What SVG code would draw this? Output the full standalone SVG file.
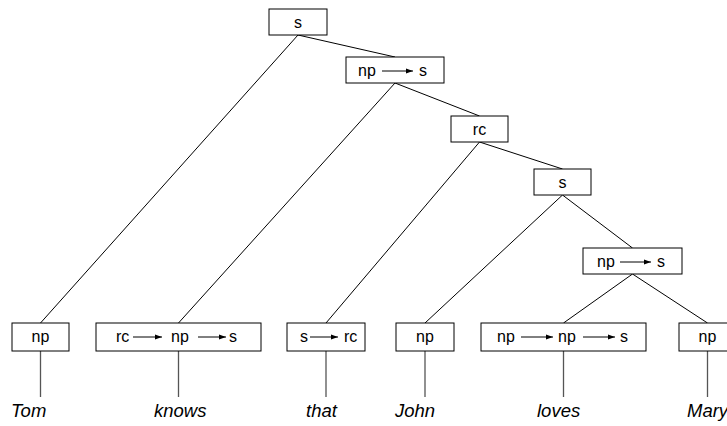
<svg xmlns="http://www.w3.org/2000/svg" width="727" height="426" viewBox="0 0 727 426">
<defs>
<style>
.box{fill:#fff;stroke:#000;stroke-width:1}
.lbl{font-family:"Liberation Sans",Arial,sans-serif;font-size:16px;fill:#000}
.word{font-family:"Liberation Sans",Arial,sans-serif;font-size:18.5px;font-style:italic;fill:#000}
.edge{stroke:#000;stroke-width:1;fill:none}
.leaf{stroke:#555;stroke-width:1.3;fill:none}
.arr{stroke:#000;stroke-width:1;fill:none;marker-end:url(#ah)}
</style>
<marker id="ah" markerWidth="7" markerHeight="6" refX="7" refY="3" orient="auto" markerUnits="userSpaceOnUse">
<path d="M0,0.6 L7,3 L0,5.4 z" fill="#000"/>
</marker>
</defs>
<rect width="727" height="426" fill="#fff"/>
<g id="connectors">
<line class="edge" x1="298" y1="35" x2="40.5" y2="323"/>
<line class="edge" x1="298" y1="35" x2="395" y2="57"/>
<line class="edge" x1="395" y1="83" x2="178.5" y2="323"/>
<line class="edge" x1="395" y1="83" x2="479.5" y2="116"/>
<line class="edge" x1="479.5" y1="142" x2="326" y2="323"/>
<line class="edge" x1="479.5" y1="142" x2="562.5" y2="169"/>
<line class="edge" x1="562.5" y1="195" x2="425" y2="323"/>
<line class="edge" x1="562.5" y1="195" x2="632.5" y2="248"/>
<line class="edge" x1="632.5" y1="274" x2="563.5" y2="323"/>
<line class="edge" x1="632.5" y1="274" x2="707.5" y2="323"/>
<line class="leaf" x1="40.5" y1="351" x2="40.5" y2="397"/>
<line class="leaf" x1="178.5" y1="351" x2="178.5" y2="397"/>
<line class="leaf" x1="326" y1="351" x2="326" y2="397"/>
<line class="leaf" x1="425" y1="351" x2="425" y2="397"/>
<line class="leaf" x1="563.5" y1="351" x2="563.5" y2="397"/>
<line class="leaf" x1="707.5" y1="351" x2="707.5" y2="397"/>
</g>
<g id="n-s1">
<rect class="box" x="269" y="9" width="58" height="26"/>
<text class="lbl" x="298" y="28" text-anchor="middle">s</text>
</g>
<g id="n-nps1">
<rect class="box" x="346" y="57" width="98" height="26"/>
<text class="lbl" x="358" y="76">np</text>
<line class="arr" x1="382" y1="71" x2="413" y2="71"/>
<text class="lbl" x="419" y="76">s</text>
</g>
<g id="n-rc">
<rect class="box" x="451" y="116" width="57" height="26"/>
<text class="lbl" x="479.5" y="135" text-anchor="middle">rc</text>
</g>
<g id="n-s2">
<rect class="box" x="534" y="169" width="57" height="26"/>
<text class="lbl" x="562.5" y="188" text-anchor="middle">s</text>
</g>
<g id="n-nps2">
<rect class="box" x="583" y="248" width="99" height="26"/>
<text class="lbl" x="597" y="267">np</text>
<line class="arr" x1="620" y1="262" x2="651" y2="262"/>
<text class="lbl" x="657" y="267">s</text>
</g>
<g id="n-tom">
<rect class="box" x="12" y="323" width="57" height="28"/>
<text class="lbl" x="40.5" y="342" text-anchor="middle">np</text>
</g>
<g id="n-knows">
<rect class="box" x="96" y="323" width="165" height="28"/>
<text class="lbl" x="116" y="342">rc</text>
<line class="arr" x1="133" y1="337" x2="162" y2="337"/>
<text class="lbl" x="171" y="342">np</text>
<line class="arr" x1="198" y1="337" x2="226" y2="337"/>
<text class="lbl" x="229" y="342">s</text>
</g>
<g id="n-that">
<rect class="box" x="287" y="323" width="78" height="28"/>
<text class="lbl" x="300" y="342">s</text>
<line class="arr" x1="310" y1="337" x2="338" y2="337"/>
<text class="lbl" x="344" y="342">rc</text>
</g>
<g id="n-john">
<rect class="box" x="396" y="323" width="58" height="28"/>
<text class="lbl" x="425" y="342" text-anchor="middle">np</text>
</g>
<g id="n-loves">
<rect class="box" x="481" y="323" width="165" height="28"/>
<text class="lbl" x="497" y="342">np</text>
<line class="arr" x1="521" y1="337" x2="553" y2="337"/>
<text class="lbl" x="558" y="342">np</text>
<line class="arr" x1="583" y1="337" x2="615" y2="337"/>
<text class="lbl" x="620" y="342">s</text>
</g>
<g id="n-mary">
<rect class="box" x="679" y="323" width="57" height="28"/>
<text class="lbl" x="707.5" y="342" text-anchor="middle">np</text>
</g>
<g id="words">
<text class="word" x="11" y="417">Tom</text>
<text class="word" x="154" y="417">knows</text>
<text class="word" x="306" y="417">that</text>
<text class="word" x="395" y="417">John</text>
<text class="word" x="537" y="417">loves</text>
<text class="word" x="687" y="417">Mary</text>
</g>
</svg>
